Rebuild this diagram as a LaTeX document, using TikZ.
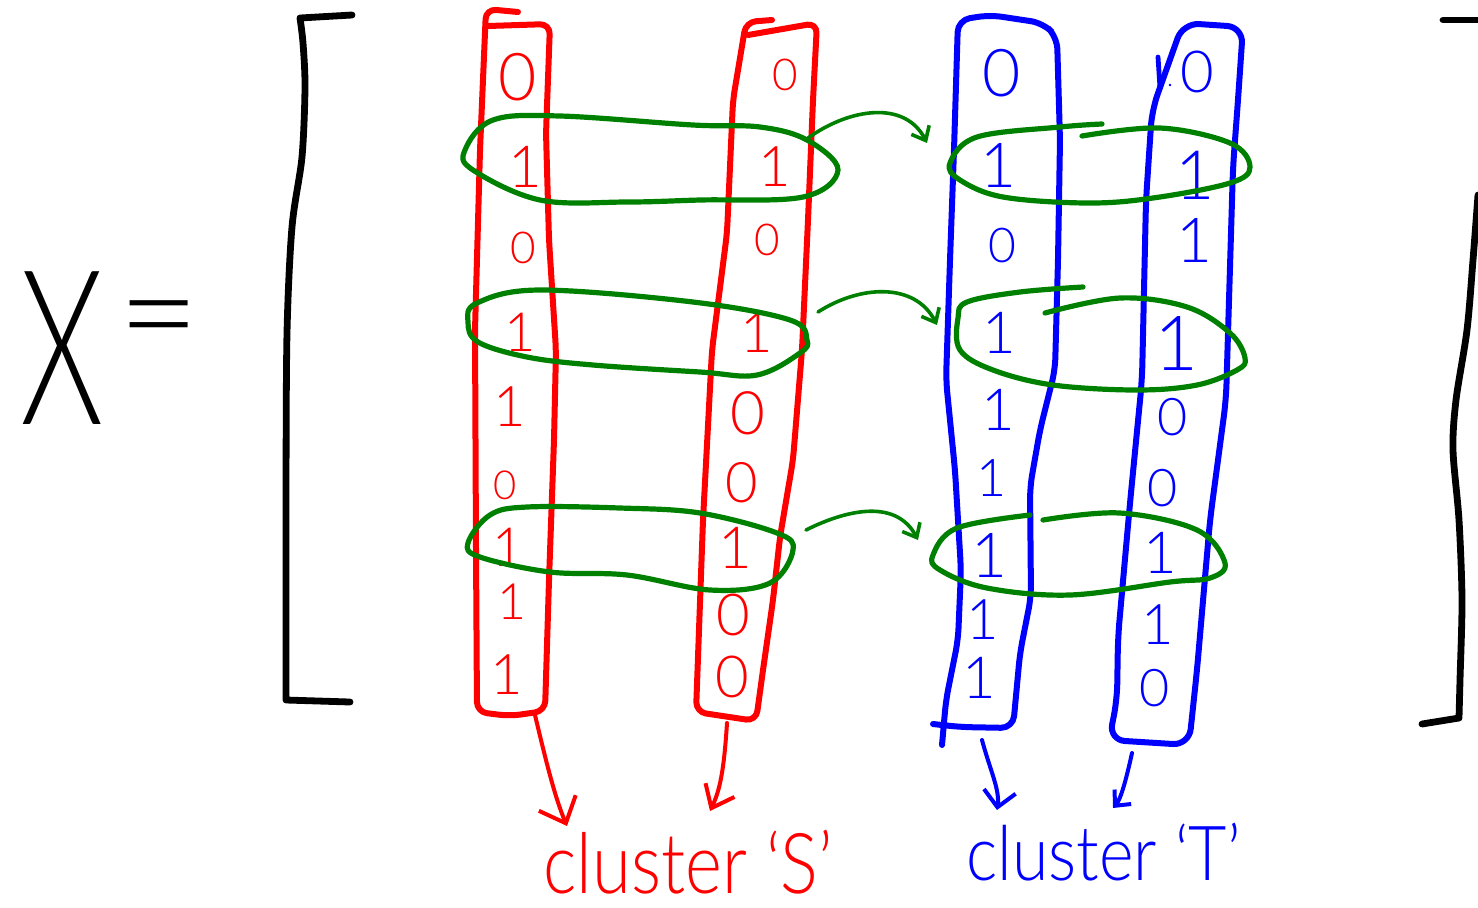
\documentclass[tikz,border=0pt]{standalone}
\usepackage{fontspec}
\usepackage{graphicx}
\usetikzlibrary{arrows.meta}
\IfFontExistsTF{Lato Light}{\newfontfamily\hand{Lato Light}}{\newfontfamily\hand{Lato}}
\definecolor{penred}{RGB}{255,0,0}
\definecolor{penblue}{RGB}{0,0,255}
\definecolor{pengreen}{RGB}{0,128,0}

\begin{document}
\begin{tikzpicture}[x=0.5pt,y=-0.5pt,line cap=round,line join=round,
  blackpen/.style={draw=black,line width=3.4pt},
  redpen/.style={draw=penred,line width=3pt},
  bluepen/.style={draw=penblue,line width=3pt},
  ring/.style={draw=pengreen,line width=2.6pt},
  hop/.style={draw=pengreen,line width=1.8pt,-{Straight Barb[length=6pt,width=10pt]}},
  pick/.style={line width=2pt},
  dig/.style={inner sep=0pt}]
\useasboundingbox (0,0) rectangle (1478,907);

% left-hand side
\node[inner sep=0pt] (X) at (62,348) {\hand\fontsize{108}{108}\selectfont\scalebox{0.62}[1]{X}};
\node[inner sep=0pt] (eq) at (159,331) {\hand\fontsize{70}{70}\selectfont =};

% matrix brackets
\draw[blackpen] (352,15) -- (300,18)
  plot[smooth] coordinates {(300,18) (303,43) (305,87) (302,157) (292,227) (287,333) (286,500) (286,700)}
  -- (350,702);
\draw[blackpen] (1443,20) -- (1478,20);
\draw[blackpen] plot[smooth] coordinates {(1478,195) (1473,260) (1467,330) (1456,400) (1453,450) (1459,520) (1462,600) (1460,680) (1459,718)}
  -- (1422,724);

% cluster S columns
\draw[redpen,rounded corners=5pt] (518,12) -- (486,9) -- (480,150) -- (475,330) -- (476,550) -- (477,712)
  -- (510,716) -- (545,711) -- (549,580) -- (554,440) -- (556,350) -- (549,240)
  -- (546,133) -- (550,24) -- (488,26);
\draw[redpen,rounded corners=5pt] (772,20) -- (746,22) -- (733,100) -- (727,233) -- (712,350) -- (703,520)
  -- (696,712) -- (756,721) -- (763,670) -- (773,600) -- (780,537) -- (793,460)
  -- (802,350) -- (808,220) -- (813,100) -- (817,23) -- (748,35);

% cluster T columns
\draw[bluepen,rounded corners=6pt] (942,745) -- (946,700) -- (958,640) -- (961,570) -- (955,470) -- (946,380)
  -- (950,260) -- (954,150) -- (958,20) -- (990,15) -- (1043,23) -- (1057,37) -- (1060,140)
  -- (1058,260) -- (1055,370) -- (1040,430) -- (1030,487) -- (1031,597) -- (1020,653)
  -- (1013,728) -- (960,727) -- (933,724);
\draw[bluepen,rounded corners=8pt] (1183,23) -- (1243,27) -- (1238,100) -- (1233,167)
  -- (1229,300) -- (1226,400) -- (1210,520) -- (1197,670) -- (1189,745)
  -- (1109,740) -- (1117,700) -- (1118,637) -- (1130,503) -- (1142,380)
  -- (1146,200) -- (1152,110) -- cycle;
\draw[bluepen,line width=2.4pt] (1158,57) -- (1160,88);
\fill[penblue] (1170,85) circle (0.7pt);

% column entries
\foreach \x/\y/\d/\s [count=\i] in {518/77/0/33, 525/167/1/29, 523/248/0/22, 520/332/1/27, 510/407/1/28,
    505/485/0/20, 508/547/1/27, 512/602/1/25, 507/675/1/28}
  \node[dig,text=penred,font=\hand\fontsize{\s}{\s}\selectfont] (sa\i) at (\x,\y) {\d};
\foreach \x/\y/\d/\s [count=\i] in {785/75/0/22, 775/167/1/28, 767/240/0/22, 757/333/1/28, 748/413/0/30,
    742/483/0/28, 735/548/1/29, 733/615/0/29, 732/677/0/29}
  \node[dig,text=penred,font=\hand\fontsize{\s}{\s}\selectfont] (sb\i) at (\x,\y) {\d};
\foreach \x/\y/\d/\s [count=\i] in {1002/73/0/33, 998/165/1/31, 1002/245/0/24, 999/333/1/29, 998/410/1/29,
    992/478/1/26, 989/555/1/31, 983/620/1/28, 979/678/1/29}
  \node[dig,text=penblue,font=\hand\fontsize{\s}{\s}\selectfont] (ta\i) at (\x,\y) {\d};
\foreach \x/\y/\d/\s [count=\i] in {1197/72/0/29, 1195/175/1/34, 1194/240/1/31, 1177/343/1/38, 1173/417/0/26,
    1163/488/0/26, 1160/553/1/29, 1158/625/1/28, 1155/688/0/26}
  \node[dig,text=penblue,font=\hand\fontsize{\s}{\s}\selectfont] (tb\i) at (\x,\y) {\d};

% rows grouped across the S columns
\draw[ring] plot[smooth cycle,tension=0.6] coordinates {(465,150) (493,120) (560,116) (693,125) (760,127)
  (807,140) (838,170) (803,197) (700,200) (627,202) (540,200) (473,170)};
\draw[ring] plot[smooth cycle,tension=0.6] coordinates {(468,322) (477,303) (540,290) (693,302) (790,320)
  (807,340) (800,353) (757,375) (700,372) (593,365) (527,357) (478,342)};
\draw[ring] plot[smooth cycle,tension=0.6] coordinates {(468,543) (490,515) (527,507) (620,508) (700,513)
  (777,533) (793,550) (770,583) (710,590) (627,575) (550,572) (480,557)};

% the same rows across the T columns
\draw[ring] plot[smooth,tension=0.6] coordinates {(1082,136) (1160,128) (1230,143) (1250,167) (1230,183)
  (1153,198) (1087,203) (1003,197) (960,180) (950,163) (977,137) (1060,127) (1102,124)};
\draw[ring] plot[smooth,tension=0.6] coordinates {(1045,313) (1120,298) (1187,307) (1230,333) (1245,358)
  (1237,370) (1197,385) (1137,390) (1053,385) (993,370) (960,350) (958,318) (967,302) (1020,292) (1083,287)};
\draw[ring] plot[smooth,tension=0.6] coordinates {(1043,520) (1120,513) (1197,530) (1225,563) (1210,578)
  (1170,582) (1070,595) (987,588) (940,570) (933,555) (957,528) (1030,515)};

% row correspondences
\coordinate (g1s) at (808,138);  \coordinate (g1e) at (927,143);
\coordinate (g2s) at (818,312);  \coordinate (g2e) at (937,325);
\coordinate (g3s) at (806,530);  \coordinate (g3e) at (918,540);
\draw[hop] (g1s) .. controls (850,108) and (905,100) .. (g1e);
\draw[hop] (g2s) .. controls (860,285) and (915,282) .. (g2e);
\draw[hop] (g3s) .. controls (850,508) and (897,500) .. (g3e);

% cluster labels
\node[anchor=base west,inner sep=0pt,text=penred] (labS) at (543,893)
  {\hand\fontsize{42}{42}\selectfont\scalebox{0.84}[1]{cluster ‘S’}};
\node[anchor=base west,inner sep=0pt,text=penblue] (labT) at (966,880)
  {\hand\fontsize{38}{38}\selectfont\scalebox{0.87}[1]{cluster ‘T’}};

% columns to their cluster
\coordinate (sabot) at (535,715);  \coordinate (sbbot) at (727,723);
\coordinate (tabot) at (982,740);  \coordinate (tbbot) at (1132,753);
\coordinate (sae) at (567,826);   \coordinate (sbe) at (710,811);
\coordinate (tae) at (997,810);   \coordinate (tbe) at (1113,808);
\draw[pick,penred,-{Straight Barb[length=11pt,width=20pt]}] (sabot) .. controls (548,770) and (556,800) .. (sae);
\draw[pick,penred,-{Straight Barb[length=10pt,width=16pt]}] (sbbot) .. controls (724,770) and (720,790) .. (sbe);
\draw[pick,penblue,-{Straight Barb[length=8pt,width=16pt]}] (tabot) .. controls (990,770) and (1000,790) .. (tae);
\draw[pick,penblue,-{Straight Barb[length=6pt,width=11pt]}] (tbbot) .. controls (1125,785) and (1120,800) .. (tbe);
\end{tikzpicture}
\end{document}
